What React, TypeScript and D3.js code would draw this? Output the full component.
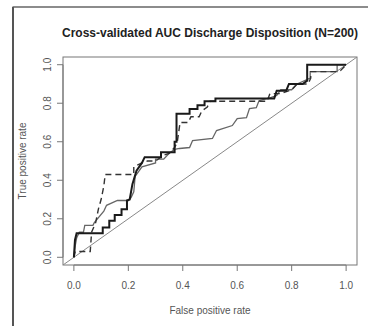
import React from "react";
import * as d3 from "d3";

const W = 368;
const H = 326;

const title = "Cross-validated AUC Discharge Disposition (N=200)";
const xLabel = "False positive rate";
const yLabel = "True positive rate";
const tickValues = [0, 0.2, 0.4, 0.6, 0.8, 1.0];

// ROC curve 1 (thick solid black)
const curveBlackFpr = [0, 0.004, 0.01, 0.106, 0.106, 0.13, 0.13, 0.15, 0.15, 0.175, 0.175, 0.195, 0.195, 0.205, 0.215, 0.23, 0.25, 0.26, 0.32, 0.32, 0.37, 0.37, 0.377, 0.377, 0.425, 0.425, 0.454, 0.454, 0.48, 0.48, 0.52, 0.52, 0.736, 0.745, 0.78, 0.79, 0.84, 0.857, 0.857, 1.0];
const curveBlackTpr = [0, 0.09, 0.125, 0.125, 0.155, 0.155, 0.19, 0.19, 0.22, 0.22, 0.25, 0.25, 0.295, 0.3, 0.38, 0.45, 0.49, 0.52, 0.52, 0.545, 0.545, 0.6, 0.6, 0.745, 0.745, 0.77, 0.77, 0.79, 0.79, 0.81, 0.81, 0.825, 0.825, 0.865, 0.865, 0.9, 0.9, 0.917, 1.0, 1.0];

// ROC curve 2 (thin solid gray)
const curveGrayFpr = [0, 0.005, 0.01, 0.02, 0.035, 0.04, 0.07, 0.075, 0.11, 0.12, 0.16, 0.2, 0.21, 0.22, 0.225, 0.25, 0.3, 0.3, 0.33, 0.35, 0.37, 0.388, 0.425, 0.436, 0.509, 0.524, 0.582, 0.6, 0.634, 0.645, 0.67, 0.68, 0.725, 0.745, 0.76, 0.8, 0.82, 0.868, 0.868, 0.967, 0.967, 1.0];
const curveGrayTpr = [0, 0.06, 0.1, 0.13, 0.13, 0.166, 0.166, 0.18, 0.24, 0.27, 0.295, 0.295, 0.31, 0.34, 0.42, 0.47, 0.49, 0.51, 0.51, 0.54, 0.56, 0.565, 0.57, 0.606, 0.617, 0.658, 0.684, 0.72, 0.725, 0.772, 0.777, 0.813, 0.83, 0.84, 0.87, 0.87, 0.9, 0.93, 0.964, 0.964, 1.0, 1.0];

// ROC curve 3 (dashed dark)
const curveDashFpr = [0, 0.005, 0.06, 0.065, 0.08, 0.09, 0.1, 0.11, 0.115, 0.22, 0.22, 0.25, 0.27, 0.3, 0.33, 0.35, 0.37, 0.38, 0.39, 0.42, 0.43, 0.46, 0.47, 0.49, 0.5, 0.71, 0.72, 0.76, 0.8, 0.82, 0.86, 0.87, 0.87, 0.96, 0.98, 1.0];
const curveDashTpr = [0, 0.03, 0.03, 0.13, 0.18, 0.25, 0.3, 0.37, 0.43, 0.43, 0.47, 0.49, 0.5, 0.5, 0.53, 0.54, 0.57, 0.6, 0.7, 0.7, 0.73, 0.73, 0.76, 0.78, 0.81, 0.81, 0.85, 0.85, 0.87, 0.9, 0.9, 0.93, 0.964, 0.964, 0.97, 1.0];

const box = { left: 63, right: 357, top: 57, bottom: 265 };

export default function App() {
  const x = d3.scaleLinear().domain([-0.04, 1.04]).range([box.left, box.right]);
  const y = d3.scaleLinear().domain([-0.04, 1.04]).range([box.bottom, box.top]);

  const line = d3
    .line<[number, number]>()
    .x((d) => x(d[0]))
    .y((d) => y(d[1]));

  const zip = (a: number[], b: number[]) => a.map((v, i) => [v, b[i]] as [number, number]);

  const font = "'Liberation Sans', Arial, Helvetica, sans-serif";

  return (
    <svg
      width={W}
      height={H}
      style={{ position: "absolute", left: 0, top: 0, background: "#fff" }}
      fontFamily={font}
    >
      <rect x={0} y={0} width={W} height={H} fill="#fff" />
      {/* outer frame */}
      <line x1={12.5} y1={7} x2={W} y2={7} stroke="#666" strokeWidth={1.5} />
      <line x1={13} y1={7} x2={13} y2={H} stroke="#555" strokeWidth={2} />

      <text x={210} y={37} textAnchor="middle" fontSize={12} fontWeight="bold" fill="#222">
        {title}
      </text>

      {/* plot box */}
      <rect
        x={box.left}
        y={box.top}
        width={box.right - box.left}
        height={box.bottom - box.top}
        fill="none"
        stroke="#777"
        strokeWidth={1}
      />

      {/* x axis */}
      <line x1={x(0)} x2={x(1)} y1={box.bottom} y2={box.bottom} stroke="#777" />
      {tickValues.map((t) => (
        <g key={"x" + t}>
          <line x1={x(t)} x2={x(t)} y1={box.bottom} y2={box.bottom + 6} stroke="#777" />
          <text x={x(t)} y={289} textAnchor="middle" fontSize={10} fill="#555">
            {t.toFixed(1)}
          </text>
        </g>
      ))}
      <text x={x(0.5)} y={314} textAnchor="middle" fontSize={10} fill="#555">
        {xLabel}
      </text>

      {/* y axis */}
      <line x1={box.left} x2={box.left} y1={y(0)} y2={y(1)} stroke="#777" />
      {tickValues.map((t) => (
        <g key={"y" + t}>
          <line x1={box.left - 6} x2={box.left} y1={y(t)} y2={y(t)} stroke="#777" />
          <text
            transform={`translate(51,${y(t)}) rotate(-90)`}
            textAnchor="middle"
            fontSize={10}
            fill="#555"
          >
            {t.toFixed(1)}
          </text>
        </g>
      ))}
      <text
        transform={`translate(26,${y(0.5)}) rotate(-90)`}
        textAnchor="middle"
        fontSize={10}
        fill="#555"
      >
        {yLabel}
      </text>

      <clipPath id="plotclip">
        <rect x={box.left} y={box.top} width={box.right - box.left} height={box.bottom - box.top} />
      </clipPath>
      <g clipPath="url(#plotclip)">
        <path
          d={line([[-0.04, -0.04], [1.04, 1.04]]) || ""}
          stroke="#888"
          strokeWidth={1}
          fill="none"
        />
        <path d={line(zip(curveGrayFpr, curveGrayTpr)) || ""} stroke="#666" strokeWidth={1.3} fill="none" />
        <path
          d={line(zip(curveDashFpr, curveDashTpr)) || ""}
          stroke="#333"
          strokeWidth={1.4}
          strokeDasharray="6,4"
          fill="none"
        />
        <path d={line(zip(curveBlackFpr, curveBlackTpr)) || ""} stroke="#1a1a1a" strokeWidth={2} fill="none" />
      </g>
    </svg>
  );
}
